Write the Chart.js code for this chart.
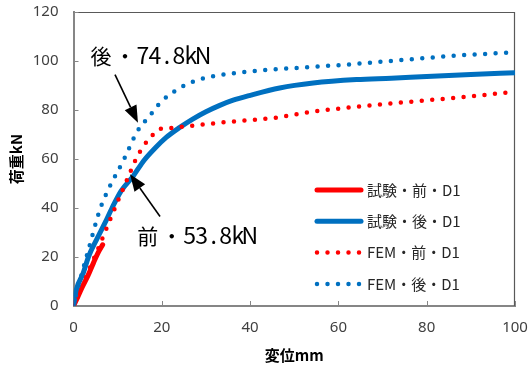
<!DOCTYPE html>
<html lang="ja">
<head>
<meta charset="utf-8">
<title>荷重－変位関係</title>
<script src="https://cdn.jsdelivr.net/npm/chart.js@4.4.1/dist/chart.umd.min.js"></script>
<style>
  html, body { margin: 0; padding: 0; background: #ffffff; }
  #wrap { width: 531px; height: 369px; }
</style>
</head>
<body>
<div id="wrap"><canvas id="c" width="531" height="369"></canvas></div>
<script>
// 試験・前・D1 (measured, before)
const testBeforeX = [0, 1, 2, 3.3, 4.5, 5.5, 6.6];
const testBeforeY = [0, 3.8, 7.8, 12.5, 17.5, 21.5, 25.0];

// 試験・後・D1 (measured, after)
const testAfterX = [0, 0.6, 2.2, 3.4, 5.2, 7.1, 8.7, 10.8, 13.5, 16, 18.5, 21, 24, 27, 30, 33, 36, 40, 46.7, 54.3, 64.1, 72, 80, 90, 100];
const testAfterY = [0, 6.5, 13.4, 20.1, 27.0, 33.8, 39.9, 47.0, 53.0, 59.5, 64.5, 68.8, 72.8, 76.3, 79.3, 81.8, 83.9, 86.0, 89.0, 91.0, 92.4, 93.0, 93.7, 94.5, 95.2];

// FEM・前・D1 (analysis, before)
const femBeforeX = [0, 2, 4, 6, 8, 10, 12, 14, 15.5, 17, 18.5, 19.5, 21, 23, 25, 28, 32, 36, 41, 46, 54, 64, 72, 86, 98.5, 100];
const femBeforeY = [0, 8.2, 16.8, 25.2, 34, 42.6, 51, 59.4, 64.3, 68, 70.8, 72.2, 72.5, 72.8, 73.3, 73.8, 74.6, 75.3, 76.0, 76.9, 79.3, 81.3, 82.7, 84.9, 87.2, 87.5];

// FEM・後・D1 (analysis, after)
const femAfterX = [0, 1, 2, 3, 4, 5, 6, 7, 8, 9, 10, 11, 12, 13, 14, 15, 16, 17.5, 19.2, 21, 23, 25, 27.1, 31.6, 36.2, 40.7, 45.6, 55, 64.5, 73, 86, 99];
const femAfterY = [0, 7.5, 14, 20.5, 27, 33.5, 39.5, 44, 48, 51.5, 55, 58.3, 62, 66, 69.8, 72.8, 75, 78.2, 82.1, 85.2, 87.8, 89.9, 91.6, 93.8, 95.0, 95.9, 96.6, 97.7, 98.9, 100.2, 102.1, 103.5];

// axis ticks
const xTicks = [0, 20, 40, 60, 80, 100];
const yTicks = [0, 20, 40, 60, 80, 100, 120];

// series names
const seriesNames = ['試験・前・D1', '試験・後・D1', 'FEM・前・D1', 'FEM・後・D1'];

// annotated loads (kN)
const noteNames = ['後', '前'];
const noteLoads = [74.8, 53.8];

const RED = '#ff0000';
const BLUE = '#0070c0';
const DOT = [0, 10.5];

const toPoints = (xs, ys) => xs.map((x, i) => ({ x: x, y: ys[i] }));

// where each callout sits (data units)
const noteLayout = [
  { textX: 3.5,  textY: 98.9, tailX: 9.4,  tailY: 94.4, tipX: 14.6 },
  { textX: 14.1, textY: 25.3, tailX: 19.6, tailY: 36.5, tipX: 12.8 }
];

const MONO_CELL = 12;

function drawMonoText(ctx, str, x, y) {
  ctx.save();
  ctx.fillStyle = '#000000';
  ctx.textAlign = 'center';
  ctx.textBaseline = 'alphabetic';
  for (const ch of str) {
    const full = ch.charCodeAt(0) > 0x2000;
    const w = full ? MONO_CELL * 2 : MONO_CELL;
    ctx.font = full ? '21px "Noto Sans CJK JP"' : '23px "Noto Sans CJK JP"';
    ctx.fillText(ch, x + w / 2, y);
    x += w;
  }
  ctx.restore();
}

function drawArrow(ctx, x1, y1, x2, y2) {
  const ang = Math.atan2(y2 - y1, x2 - x1);
  const headLen = 17, headHalf = 6.5;
  const bx = x2 - headLen * Math.cos(ang), by = y2 - headLen * Math.sin(ang);
  ctx.save();
  ctx.strokeStyle = '#000000';
  ctx.fillStyle = '#000000';
  ctx.lineWidth = 1.6;
  ctx.beginPath();
  ctx.moveTo(x1, y1);
  ctx.lineTo(bx, by);
  ctx.stroke();
  ctx.beginPath();
  ctx.moveTo(x2, y2);
  ctx.lineTo(bx + headHalf * Math.sin(ang), by - headHalf * Math.cos(ang));
  ctx.lineTo(bx - headHalf * Math.sin(ang), by + headHalf * Math.cos(ang));
  ctx.closePath();
  ctx.fill();
  ctx.restore();
}

const framePlugin = {
  id: 'frame',
  beforeDraw(chart) {
    const { ctx } = chart;
    ctx.save();
    ctx.fillStyle = '#ffffff';
    ctx.fillRect(0, 0, chart.width, chart.height);
    ctx.restore();
  },
  beforeDatasetsDraw(chart) {
    const { ctx, chartArea: a, scales } = chart;
    ctx.save();
    // top and right edges of the plot box
    ctx.strokeStyle = '#595959';
    ctx.lineWidth = 1.2;
    ctx.beginPath();
    ctx.moveTo(a.left, a.top + 0.5);
    ctx.lineTo(a.right - 0.5, a.top + 0.5);
    ctx.lineTo(a.right - 0.5, a.bottom);
    ctx.stroke();
    // inward tick marks
    ctx.strokeStyle = '#868686';
    ctx.lineWidth = 1;
    ctx.beginPath();
    xTicks.forEach(v => {
      const px = Math.round(scales.x.getPixelForValue(v)) + 0.5;
      ctx.moveTo(px, a.bottom);
      ctx.lineTo(px, a.bottom - 5);
    });
    yTicks.forEach(v => {
      const py = Math.round(scales.y.getPixelForValue(v)) + 0.5;
      ctx.moveTo(a.left, py);
      ctx.lineTo(a.left + 5, py);
    });
    ctx.stroke();
    ctx.restore();
  },
  afterDatasetsDraw(chart) {
    const { ctx, scales: { x, y } } = chart;
    noteLoads.forEach((load, i) => {
      const L = noteLayout[i];
      const text = noteNames[i] + '・' + load.toFixed(1) + 'kN';
      drawMonoText(ctx, text, x.getPixelForValue(L.textX), y.getPixelForValue(L.textY));
      drawArrow(ctx,
        x.getPixelForValue(L.tailX), y.getPixelForValue(L.tailY),
        x.getPixelForValue(L.tipX), y.getPixelForValue(load));
    });
  },
  afterDraw(chart) {
    // legend
    const { ctx } = chart;
    const x0 = 315, x1 = 361, tx = 367, y0 = 190, dy = 31.3;
    ctx.save();
    chart.data.datasets.forEach((ds, i) => {
      const yy = y0 + i * dy;
      ctx.save();
      ctx.strokeStyle = ds.borderColor;
      ctx.lineWidth = ds.borderWidth;
      ctx.lineCap = 'round';
      ctx.setLineDash(ds.borderDash || []);
      ctx.beginPath();
      ctx.moveTo(x0 + 2, yy);
      ctx.lineTo(x1, yy);
      ctx.stroke();
      ctx.restore();
      ctx.fillStyle = '#262626';
      ctx.font = '15px "Noto Sans CJK JP"';
      ctx.textAlign = 'left';
      ctx.textBaseline = 'middle';
      ctx.fillText(ds.label, tx, yy);
    });
    ctx.restore();
  }
};

const tickFont = { family: '"Noto Sans", sans-serif', size: 15 };
const titleFont = { family: '"Noto Sans CJK JP", sans-serif', size: 15, weight: 'bold' };

new Chart(document.getElementById('c'), {
  type: 'line',
  data: {
    datasets: [
      {
        label: seriesNames[0], data: toPoints(testBeforeX, testBeforeY),
        borderColor: RED, backgroundColor: RED, borderWidth: 5,
        borderCapStyle: 'round', borderJoinStyle: 'round', order: 3
      },
      {
        label: seriesNames[1], data: toPoints(testAfterX, testAfterY),
        borderColor: BLUE, backgroundColor: BLUE, borderWidth: 5,
        borderCapStyle: 'round', borderJoinStyle: 'round', order: 2
      },
      {
        label: seriesNames[2], data: toPoints(femBeforeX, femBeforeY),
        borderColor: RED, backgroundColor: RED, borderWidth: 4.5,
        borderDash: DOT, borderCapStyle: 'round', order: 1
      },
      {
        label: seriesNames[3], data: toPoints(femAfterX, femAfterY),
        borderColor: BLUE, backgroundColor: BLUE, borderWidth: 4.5,
        borderDash: DOT, borderCapStyle: 'round', order: 0
      }
    ]
  },
  options: {
    responsive: false,
    animation: false,
    devicePixelRatio: 1,
    layout: { padding: { top: 12, right: 16, left: 0, bottom: 0 } },
    elements: {
      point: { radius: 0, hoverRadius: 0 },
      line: { cubicInterpolationMode: 'monotone', fill: false }
    },
    plugins: {
      legend: { display: false },
      tooltip: { enabled: false }
    },
    scales: {
      x: {
        type: 'linear', min: 0, max: 100,
        afterFit(s) { s.height = 63; s.paddingLeft = 0; s.paddingRight = 0; },
        afterBuildTicks(s) { s.ticks = xTicks.map(v => ({ value: v })); },
        grid: { display: false, drawTicks: false },
        border: { display: true, color: '#868686', width: 2 },
        ticks: { font: tickFont, color: '#404040', padding: 13, maxRotation: 0 },
        title: { display: true, text: '変位mm', font: titleFont, color: '#000000', padding: { top: 0, bottom: 5 } }
      },
      y: {
        type: 'linear', min: 0, max: 120,
        afterFit(s) { s.width = 73.5; s.paddingTop = 0; s.paddingBottom = 0; },
        afterBuildTicks(s) { s.ticks = yTicks.map(v => ({ value: v })); },
        grid: { display: false, drawTicks: false },
        border: { display: true, color: '#868686', width: 2 },
        ticks: { font: tickFont, color: '#404040', padding: 15 },
        title: { display: true, text: '荷重kN', font: titleFont, color: '#000000', padding: { top: 7, bottom: 0 } }
      }
    }
  },
  plugins: [framePlugin]
});
</script>
</body>
</html>
